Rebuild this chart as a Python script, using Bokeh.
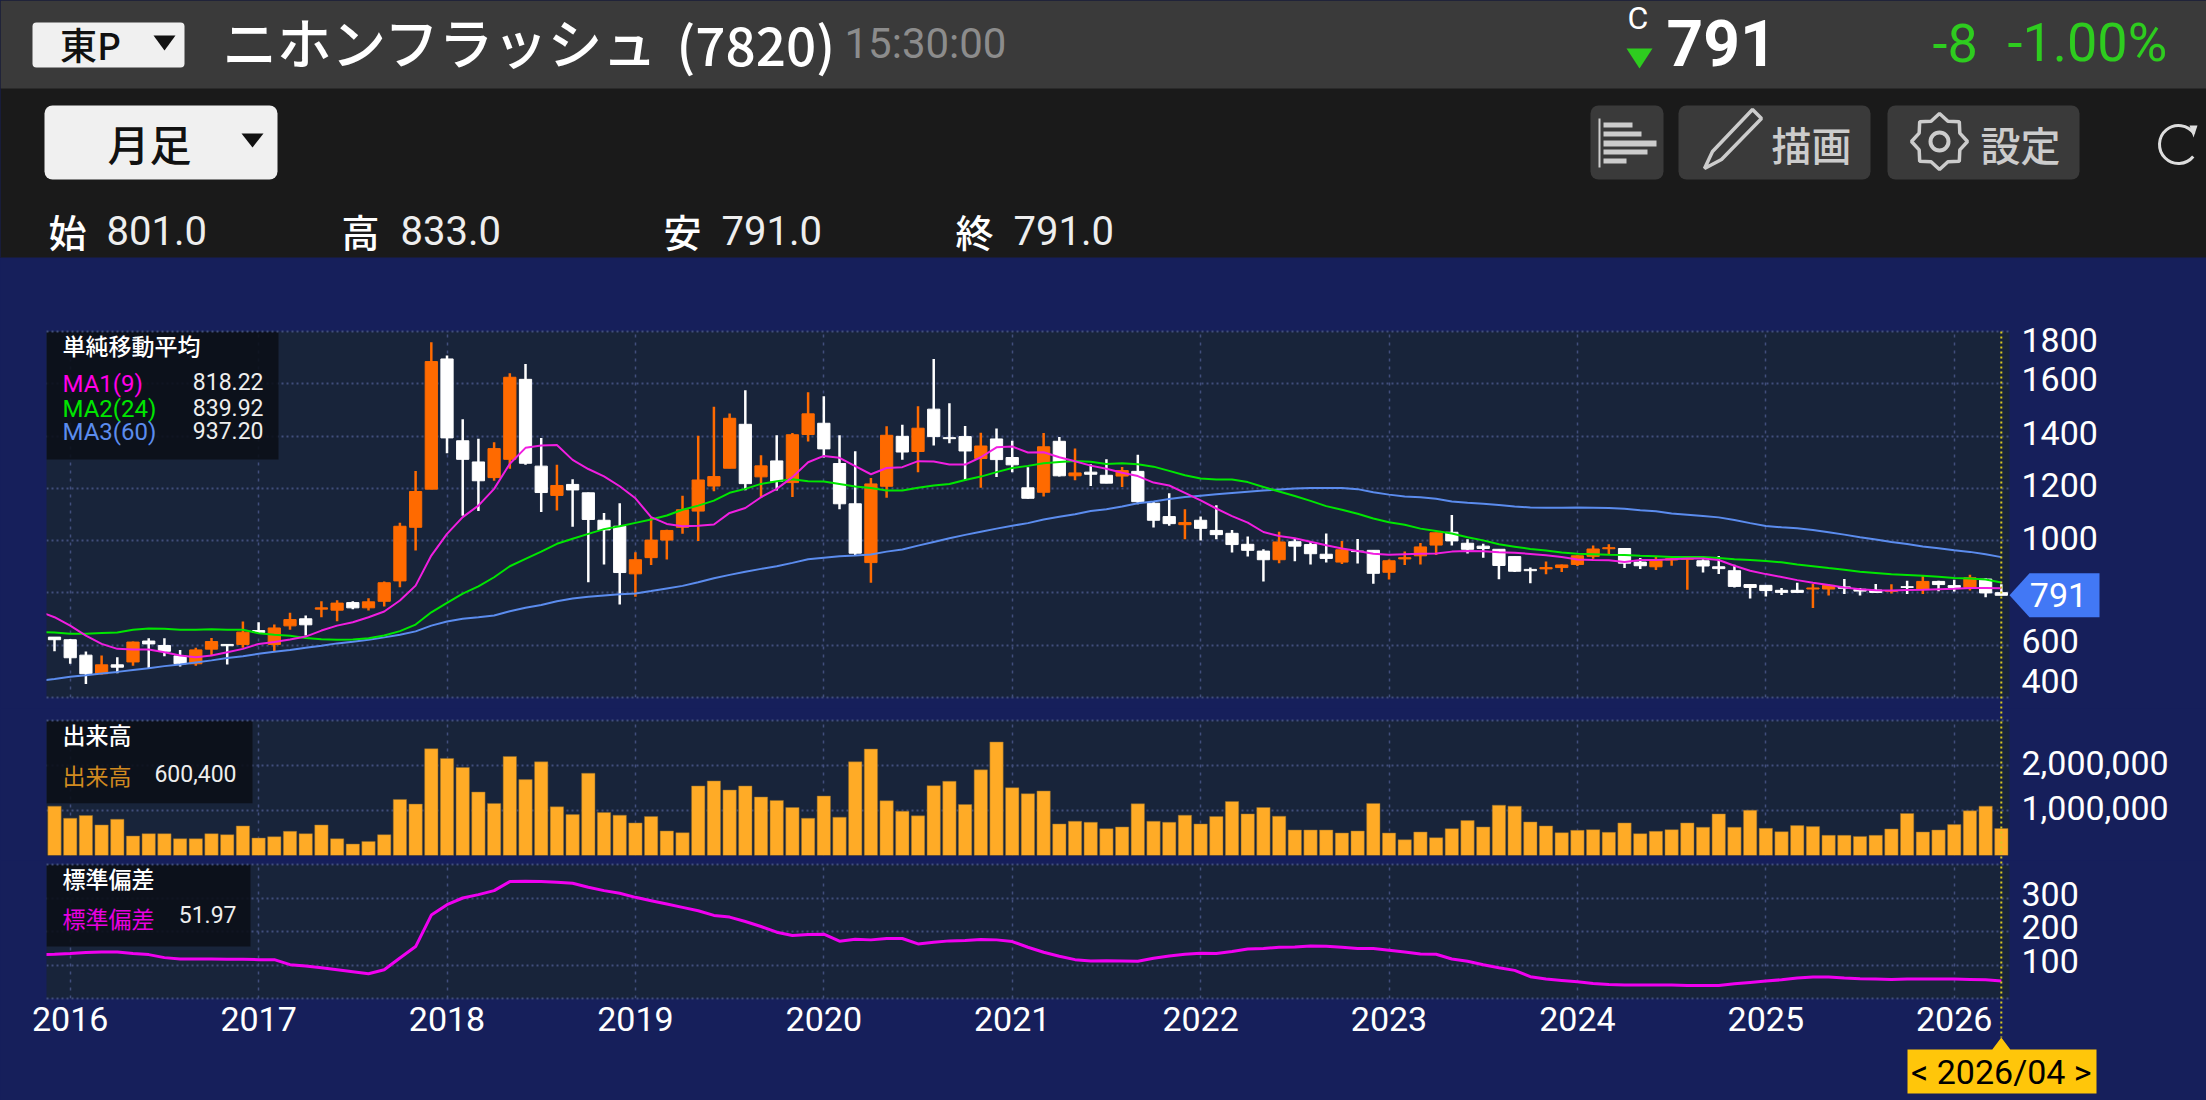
import math
from bokeh.core.properties import value
from bokeh.embed import file_html
from bokeh.layouts import column
from bokeh.models import FixedTicker, Range1d
from bokeh.plotting import figure
from bokeh.resources import INLINE

# monthly candles, 2015/12 .. 2026/04
opens = [631, 621, 562, 491, 525, 536, 616, 599, 559, 529,
         585, 603, 603, 656, 603, 674, 701, 738, 734, 763,
         743, 768, 846, 1051, 1197, 1695, 1382, 1301, 1241, 1311,
         1617, 1285, 1173, 1215, 1183, 1078, 1055, 873, 935, 1002,
         1051, 1113, 1209, 1277, 1445, 1244, 1305, 1222, 1406, 1449,
         1295, 1141, 916, 1208, 1399, 1341, 1503, 1394, 1398, 1314,
         1389, 1318, 1202, 1185, 1380, 1248, 1262, 1250, 1247, 1265,
         1143, 1092, 1061, 1078, 1039, 1028, 986, 960, 927, 996,
         985, 948, 918, 960, 963, 879, 930, 942, 983, 1032,
         990, 979, 967, 939, 890, 892, 897, 909, 940, 969,
         970, 918, 900, 926, 929, 923, 900, 885, 832, 829,
         810, 810, 815, 815, 823, 814, 811, 806, 824, 814,
         844, 828, 821, 853, 801]
closes = [621, 552, 491, 525, 516, 612, 605, 577, 529, 582,
          614, 598, 650, 649, 666, 698, 678, 743, 761, 743,
          766, 839, 1055, 1188, 1685, 1393, 1311, 1229, 1352, 1625,
          1296, 1184, 1211, 1194, 1081, 1041, 878, 927, 1002, 1039,
          1118, 1232, 1245, 1468, 1218, 1286, 1227, 1405, 1485, 1351,
          1141, 952, 1217, 1403, 1339, 1430, 1398, 1390, 1343, 1362,
          1310, 1290, 1162, 1359, 1248, 1259, 1254, 1220, 1268, 1149,
          1078, 1065, 1069, 1047, 1023, 985, 963, 927, 995, 979,
          950, 932, 965, 958, 875, 923, 935, 976, 1030, 999,
          967, 970, 905, 883, 885, 897, 907, 942, 968, 973,
          914, 904, 926, 931, 931, 903, 893, 825, 821, 809,
          802, 802, 819, 829, 818, 807, 802, 809, 821, 844,
          832, 821, 858, 800, 791]
highs = [631, 624, 576, 561, 554, 614, 627, 627, 582, 590,
         628, 603, 691, 688, 679, 724, 714, 768, 772, 768,
         780, 844, 1068, 1266, 1759, 1708, 1464, 1390, 1376, 1640,
         1676, 1393, 1290, 1235, 1184, 1106, 1143, 956, 1087, 1042,
         1172, 1401, 1512, 1486, 1575, 1327, 1403, 1412, 1568, 1552,
         1403, 1342, 1240, 1438, 1443, 1514, 1695, 1526, 1439, 1413,
         1429, 1382, 1281, 1412, 1396, 1352, 1292, 1311, 1282, 1329,
         1148, 1181, 1120, 1092, 1135, 1041, 1016, 967, 1034, 1009,
         999, 1027, 999, 1006, 963, 928, 958, 991, 1030, 1098,
         1005, 988, 967, 939, 897, 920, 909, 944, 981, 986,
         971, 934, 939, 934, 931, 929, 941, 908, 832, 830,
         819, 839, 834, 834, 853, 819, 834, 833, 847, 866,
         847, 850, 870, 856, 833]
lows = [577, 529, 452, 488, 493, 521, 513, 558, 519, 521,
        563, 526, 590, 644, 577, 659, 637, 707, 692, 738,
        733, 748, 822, 962, 1197, 1334, 1095, 1113, 1229, 1275,
        1290, 1110, 1115, 1053, 841, 909, 756, 785, 907, 928,
        1026, 999, 1189, 1277, 1193, 1166, 1192, 1167, 1379, 1318,
        1120, 941, 839, 1164, 1309, 1262, 1364, 1373, 1231, 1202,
        1243, 1262, 1160, 1169, 1245, 1231, 1209, 1220, 1205, 1139,
        1050, 1057, 1005, 1001, 1005, 955, 939, 844, 914, 921,
        909, 916, 911, 913, 835, 851, 907, 909, 945, 981,
        951, 935, 852, 880, 837, 871, 880, 903, 931, 945,
        895, 892, 888, 904, 812, 878, 872, 821, 779, 786,
        792, 801, 742, 790, 796, 790, 800, 798, 796, 796,
        806, 805, 809, 783, 791]

# moving averages and std dev start one month earlier, off the left edge
ma1 = [730, 707, 675, 637, 605, 586, 584, 584, 573, 561, 554, 561, 573, 586, 605, 612, 622, 633, 656, 675, 688,
       707, 729, 771, 828, 943, 1026, 1090, 1134, 1198, 1294, 1355, 1364, 1366,
       1309, 1274, 1246, 1208, 1162, 1090, 1064, 1055, 1057, 1062, 1106, 1125, 1166, 1198, 1243, 1300, 1324, 1317,
       1285, 1254, 1278, 1281, 1304, 1303, 1291, 1291, 1319, 1357, 1360, 1337, 1338, 1319, 1304, 1287,
       1275, 1260, 1247, 1222, 1211, 1183, 1154, 1123, 1094, 1069, 1033, 1018, 1009, 996, 982, 970, 960, 950, 946,
       948, 950, 951, 958, 960, 959, 956, 954, 949, 944, 937, 928, 926, 925, 918,
       926, 926, 929, 932, 932, 926, 904, 885, 872, 861, 849, 839, 830, 821, 814, 810, 809, 811, 812, 814, 816,
       819, 819, 818]
ma2 = [650, 649, 644, 644, 647, 649, 659, 664, 663, 659, 659, 661, 659, 659, 646, 640, 636, 628, 623, 621, 622,
       627, 637, 654, 679, 726, 762, 797, 825, 860, 902, 930, 958, 988,
       1007, 1026, 1044, 1055, 1068, 1081, 1096, 1118, 1134, 1153, 1183, 1198, 1217, 1227, 1235, 1227, 1226, 1217,
       1207, 1201, 1192, 1192, 1202, 1211, 1217, 1232, 1245, 1262, 1278, 1286, 1296, 1301, 1305, 1302,
       1293, 1296, 1292, 1283, 1267, 1250, 1238, 1234, 1234, 1224, 1205, 1188, 1171, 1152, 1132, 1118, 1103, 1085,
       1070, 1061, 1046, 1037, 1027, 1013, 1001, 986, 977, 968, 962, 955, 950, 948, 946, 945,
       942, 940, 937, 937, 937, 934, 929, 926, 922, 917, 909, 902, 895, 889, 881, 876, 871, 869, 866, 862, 857,
       855, 851, 840]
ma3 = [464, 471, 479, 485, 492, 498, 505, 512, 520, 526, 534, 542, 551, 558, 567, 575, 582, 590, 598, 607, 613,
       621, 630, 640, 653, 675, 691, 701, 707, 714, 730, 743, 754, 768,
       779, 785, 790, 795, 798, 807, 817, 827, 841, 856, 869, 881, 892, 902, 915, 929, 935, 940,
       943, 947, 958, 966, 981, 995, 1009, 1022, 1034, 1046, 1057, 1067, 1081, 1091, 1101, 1113,
       1120, 1131, 1143, 1150, 1159, 1167, 1172, 1177, 1182, 1187, 1192, 1196, 1199, 1201, 1201, 1201, 1197, 1185,
       1176, 1169, 1166, 1160, 1150, 1145, 1141, 1136, 1131, 1127, 1126, 1126, 1127, 1126, 1125, 1122,
       1116, 1112, 1104, 1099, 1094, 1089, 1079, 1067, 1056, 1051, 1047, 1041, 1032, 1023, 1013, 1004, 995, 987,
       978, 971, 963, 957, 948, 937]
std_dev = [131, 132, 134, 137, 139, 139, 134, 131, 122, 118, 118, 118, 117, 117, 116, 116, 101, 97, 92, 86, 80,
           74, 86, 121, 155, 249, 280, 300, 310, 322, 349, 350, 349, 347,
           344, 332, 322, 314, 302, 292, 282, 272, 262, 248, 243, 230, 215, 198, 188, 191, 192, 171,
           177, 175, 179, 179, 163, 168, 172, 173, 176, 175, 170, 153, 138, 126, 116, 112,
           113, 112, 111, 120, 127, 132, 135, 134, 140, 148, 149, 153, 154, 157, 156, 153, 149, 149,
           144, 139, 133, 132, 118, 111, 101, 92, 84, 65, 58, 54, 50, 45, 42, 40,
           40, 40, 40, 39, 39, 39, 44, 48, 52, 56, 61, 64, 64, 61, 59, 58, 57, 58, 58,
           58, 58, 57, 56, 52]
volume = [1097000, 828000, 888000, 679000, 806000, 433000, 485000, 485000, 373000, 373000,
          485000, 463000, 657000, 388000, 418000, 537000, 485000, 679000, 373000, 254000,
          313000, 463000, 1246000, 1142000, 2373000, 2157000, 1955000, 1410000, 1157000, 2201000,
          1687000, 2082000, 1082000, 910000, 1828000, 955000, 896000, 724000, 866000, 545000,
          507000, 1545000, 1657000, 1455000, 1545000, 1299000, 1224000, 1067000, 828000, 1321000,
          851000, 2082000, 2366000, 1216000, 985000, 881000, 1552000, 1649000, 1134000, 1903000,
          2522000, 1507000, 1373000, 1433000, 701000, 761000, 739000, 597000,
          634000, 1149000, 761000, 739000, 896000, 701000, 866000, 1201000, 925000, 1067000,
          873000, 567000, 567000, 567000, 500000, 545000, 1157000, 500000, 351000, 522000,
          396000, 597000, 776000, 634000, 1119000, 1097000, 746000, 657000, 507000, 560000,
          575000, 515000, 724000, 485000, 537000, 575000, 724000, 627000, 925000, 627000,
          1007000, 604000, 530000, 664000, 642000, 448000, 448000, 425000, 448000, 590000,
          933000, 522000, 567000, 687000, 993000, 1097000, 600400]

year_labels = ["2016", "2017", "2018", "2019", "2020", "2021", "2022", "2023", "2024", "2025", "2026"]
year_index = [1, 13, 25, 37, 49, 61, 73, 85, 97, 109, 121]

# the app nudges some tick labels off their gridlines so they fit
price_grid = [400, 600, 800, 1000, 1200, 1400, 1600, 1800]
price_tick_pos = [1769, 1620, 1413, 1211, 1012, 618, 465]
price_tick_labels = ["1800", "1600", "1400", "1200", "1000", "600", "400"]
vol_grid = [1000000, 2000000, 3000000]
vol_tick_pos = [1060000, 2060000]
vol_tick_labels = ["1,000,000", "2,000,000"]
std_grid = [100, 200, 300, 400]
std_tick_pos = [112, 212, 312]
std_tick_labels = ["100", "200", "300"]

ORANGE = "#ff6a00"
NAVY = "#161f5b"
PANEL = "#18243a"
GRID = "#414e7c"
YELLOW = "#d8c81e"
JP = "Noto Sans CJK JP"
JP_MED = "Noto Sans CJK JP Medium"
N = len(closes)
assert all(len(a) == N for a in (opens, highs, lows, volume))
assert all(len(a) == N + 1 for a in (ma1, ma2, ma3, std_dev))

months = list(range(N))
line_x = list(range(-1, N))
x_range = Range1d(-0.51, 124.52)


def panel(height, top, bottom, y_range, show_x=False):
    p = figure(width=2206, height=height, x_range=x_range, y_range=y_range,
               output_backend="svg", toolbar_location=None, y_axis_location="right",
               x_axis_location="below" if show_x else None,
               background_fill_color=PANEL, border_fill_color=NAVY, outline_line_color=None,
               min_border_left=46, min_border_right=197, min_border_top=top, min_border_bottom=bottom)
    p.xgrid.ticker = FixedTicker(ticks=year_index)
    p.xgrid.grid_line_color = GRID
    p.xgrid.grid_line_dash = [3, 5]
    p.xgrid.grid_line_width = 1.5
    p.ygrid.grid_line_color = GRID
    p.ygrid.grid_line_dash = [2, 3]
    p.ygrid.grid_line_width = 2
    for ax in p.yaxis:
        ax.axis_line_color = None
        ax.major_tick_line_color = None
        ax.minor_tick_line_color = None
        ax.major_label_standoff = 6
        ax.major_label_text_color = "#ffffff"
        ax.major_label_text_font = "Roboto"
        ax.major_label_text_font_size = "34px"
    return p


def legend_box(p, right_px, y0, y1):
    p.quad(left=-0.51, right=(right_px - 54) / 15.7, top=y0, bottom=y1, fill_color="#0b1018",
           fill_alpha=0.9, line_color=None)


def legend_text(p, px, y, txt, color="#ffffff", align="left", font=JP, size="23px"):
    p.text(x=[(px - 54) / 15.7], y=[y], text=[txt], text_color=color, text_align=align,
           text_baseline="middle", text_font=value(font), text_font_size=size)


# ---- header strip, drawn in page pixels
head = figure(width=2206, height=258, x_range=Range1d(0, 2206), y_range=Range1d(258, 0),
              output_backend="svg", toolbar_location=None, x_axis_location=None, y_axis_location=None,
              background_fill_color="#1a1a1a", border_fill_color="#1a1a1a", outline_line_color=None,
              min_border=0)
head.grid.visible = False
head.quad(left=0, right=2206, top=0, bottom=88, fill_color="#3a3a3a", line_color=None)
head.quad(left=0, right=2206, top=257, bottom=258, fill_color=NAVY, line_color=None)


def put_text(fig, px, py, txt, size, color="#ffffff", font=JP_MED, align="left", weight="normal"):
    fig.text(x=[px], y=[py], text=[txt], text_color=color, text_font=value(font), text_font_size=f"{size}px",
             text_align=align, text_baseline="middle", text_font_style=weight)


def head_text(*args, **kw):
    put_text(head, *args, **kw)


def triangle(cx, y0, y1, half, color):
    head.patch([cx - half, cx + half, cx], [y0, y0, y1], fill_color=color, line_color=None)


head.quad(left=32, right=184, top=22, bottom=67, fill_color="#f0f0f0", line_color=None, border_radius=4)
head_text(90, 43, "東P", 37, color="#111111", align="center")
triangle(164, 35, 50, 11, "#111111")
head_text(222, 40, "ニホンフラッシュ", 54.5)
head_text(676, 42, "(7820)", 53)
head_text(844, 43, "15:30:00", 42, color="#8c8c8c", font="Roboto")
head_text(1627, 17, "C", 32, font="Roboto")
triangle(1639, 48, 68, 13, "#2ecc1f")
head_text(1666, 42, "791", 64, font="Roboto", weight="bold")
head_text(1932, 42, "-8", 54, color="#2ecc1f", font="Roboto")
head_text(2007, 42, "-1.00%", 54, color="#2ecc1f", font="Roboto")

head.quad(left=44, right=277, top=105, bottom=179, fill_color="#f0f0f0", line_color=None, border_radius=8)
head_text(149, 142, "月足", 42, color="#111111", align="center")
triangle(252, 133, 147, 11, "#111111")

for x0, x1 in ((1590, 1663), (1678, 1870), (1887, 2079)):
    head.quad(left=x0, right=x1, top=105, bottom=179, fill_color="#3a3a3a", line_color=None, border_radius=8)
head.segment(x0=[1599], y0=[118], x1=[1599], y1=[167], line_color="#cccccc", line_width=2)
head.quad(left=[1603] * 5, right=[1632, 1641, 1656, 1647, 1626], top=[122, 131, 140, 149, 158],
          bottom=[127, 136, 146, 154, 163], fill_color="#cccccc", line_color=None)
head.patch([1704, 1712, 1752, 1761, 1721], [168, 151, 109, 118, 159], fill_color="#3a3a3a",
           line_color="#cccccc", line_width=3.5)
head_text(1811, 143, "描画", 40, color="#cccccc", align="center")
gear_x = [1939 + (28 if k % 2 == 0 else 22) * math.cos(k * math.pi / 8) for k in range(16)]
gear_y = [141 + (28 if k % 2 == 0 else 22) * math.sin(k * math.pi / 8) for k in range(16)]
head.patch(gear_x, gear_y, fill_color="#3a3a3a", line_color="#cccccc", line_width=3.5)
head.circle(x=[1939], y=[141], radius=9, fill_color="#3a3a3a", line_color="#cccccc", line_width=4)
head_text(2020, 143, "設定", 40, color="#cccccc", align="center")
head.arc(x=[2178], y=[144], radius=19, start_angle=0.6, end_angle=5.6, line_color="#dddddd", line_width=3)
triangle(2193, 125, 137, 4, "#dddddd")

for px, label, vx, val in ((48, "始", 106, opens[-1]), (341, "高", 400, highs[-1]),
                           (663, "安", 721, lows[-1]), (955, "終", 1013, closes[-1])):
    head_text(px, 230, label, 38)
    head_text(vx, 230, f"{val:.1f}", 40, font="Roboto", color="#eeeeee")

# ---- price panel
price = panel(450, 73, 11, Range1d(400, 1800))
price.ygrid.ticker = FixedTicker(ticks=price_grid)
price.yaxis.ticker = FixedTicker(ticks=price_tick_pos)
price.yaxis.major_label_overrides = dict(zip(price_tick_pos, price_tick_labels))

legend_box(price, 278, 1800, 1310)
legend_text(price, 62, 1750, "単純移動平均", font=JP_MED)
for name, col, val, y in (("MA1(9)", "#ff00e6", "818.22", 1601), ("MA2(24)", "#00e600", "839.92", 1505),
                          ("MA3(60)", "#5b8cee", "937.20", 1417)):
    legend_text(price, 62, y, name, col, font="Roboto", size="24px")
    legend_text(price, 263, y + 6, val, "#eeeeee", align="right", font="Roboto")

up = [i for i in months if closes[i] > opens[i]]
down = [i for i in months if closes[i] <= opens[i]]
for idx, col in ((up, ORANGE), (down, "#ffffff")):
    price.segment(x0=idx, x1=idx, y0=[lows[i] for i in idx], y1=[highs[i] for i in idx],
                  line_color=col, line_width=2.5)
    price.vbar(x=idx, width=0.78, top=[max(opens[i], closes[i]) for i in idx],
               bottom=[min(opens[i], closes[i]) for i in idx], fill_color=col, line_color=col, line_width=1)
price.line(line_x, ma3, line_color="#5b8cee", line_width=2)
price.line(line_x, ma2, line_color="#00e600", line_width=2)
price.line(line_x, ma1, line_color="#f01ee0", line_width=2)

# ---- volume panel
vol = panel(152, 12, 5, Range1d(0, 3000000))
vol.ygrid.ticker = FixedTicker(ticks=vol_grid)
vol.yaxis.ticker = FixedTicker(ticks=vol_tick_pos)
vol.yaxis.major_label_overrides = dict(zip(vol_tick_pos, vol_tick_labels))
legend_box(vol, 252, 3000000, 1160000)
legend_text(vol, 62, 2710000, "出来高", font=JP_MED)
legend_text(vol, 62, 1790000, "出来高", "#d08a20")
legend_text(vol, 236, 1830000, "600,400", "#eeeeee", align="right", font="Roboto")
vol.vbar(x=months, width=0.85, top=volume, bottom=0, fill_color="#ffab26", line_color="#8a6a30", line_width=0.5)

# ---- std dev panel
std = panel(240, 4, 102, Range1d(0, 400), show_x=True)
std.ygrid.ticker = FixedTicker(ticks=std_grid)
std.yaxis.ticker = FixedTicker(ticks=std_tick_pos)
std.yaxis.major_label_overrides = dict(zip(std_tick_pos, std_tick_labels))
std.xaxis.ticker = FixedTicker(ticks=year_index)
std.xaxis.major_label_overrides = dict(zip(year_index, year_labels))
std.xaxis.axis_line_color = None
std.xaxis.major_tick_line_color = None
std.xaxis.minor_tick_line_color = None
std.xaxis.major_label_standoff = 2
std.xaxis.major_label_text_color = "#ffffff"
std.xaxis.major_label_text_font = "Roboto"
std.xaxis.major_label_text_font_size = "34px"
legend_box(std, 250, 400, 155)
legend_text(std, 62, 360, "標準偏差", font=JP_MED)
legend_text(std, 62, 240, "標準偏差", "#e800e0")
legend_text(std, 236, 250, "51.97", "#eeeeee", align="right", font="Roboto")
std.line(line_x, std_dev, line_color="#f000f0", line_width=3)

# ---- transparent sheet on top: crosshair, last price tag, date tag cross the panel gaps
sheet = figure(width=2206, height=1100, x_range=Range1d(0, 2206), y_range=Range1d(1100, 0),
               output_backend="svg", toolbar_location=None, x_axis_location=None, y_axis_location=None,
               background_fill_color=None, border_fill_color=None, outline_line_color=None, min_border=0,
               styles={"position": "absolute", "left": "0px", "top": "0px"})
sheet.grid.visible = False
# panel edges, the grids skip the ends of their ranges
edges = [331, 697, 720, 864, 998]
sheet.segment(x0=[46] * 5, x1=[2009] * 5, y0=edges, y1=edges, line_color=GRID, line_width=2, line_dash=value([2, 3]))
last_x = 54 + (N - 1) * 15.7
last_y = 697 - (closes[-1] - 400) * 0.2615
sheet.segment(x0=[last_x], x1=[last_x], y0=[331], y1=[1037], line_color=YELLOW, line_width=2,
              line_dash=value([2, 3]))
sheet.patch([2009, 2029, 2099, 2099, 2029], [last_y, last_y - 22, last_y - 22, last_y + 22, last_y + 22],
            fill_color="#4278f5", line_color=None)
put_text(sheet, 2058, last_y, str(closes[-1]), 34, font="Roboto", align="center")
sheet.patch([last_x, last_x - 9, 1907, 1907, 2096, 2096, last_x + 9], [1037, 1049, 1049, 1093, 1093, 1049, 1049],
            fill_color="#ffc60a", line_color=None)
put_text(sheet, last_x, 1071, "< 2026/04 >", 34, color="#000000", font="Roboto", align="center")

page = column(head, column(price, vol, std, styles={"background-color": NAVY}), sheet,
              styles={"background-color": NAVY})
open("out.html", "w").write(file_html(page, INLINE))
